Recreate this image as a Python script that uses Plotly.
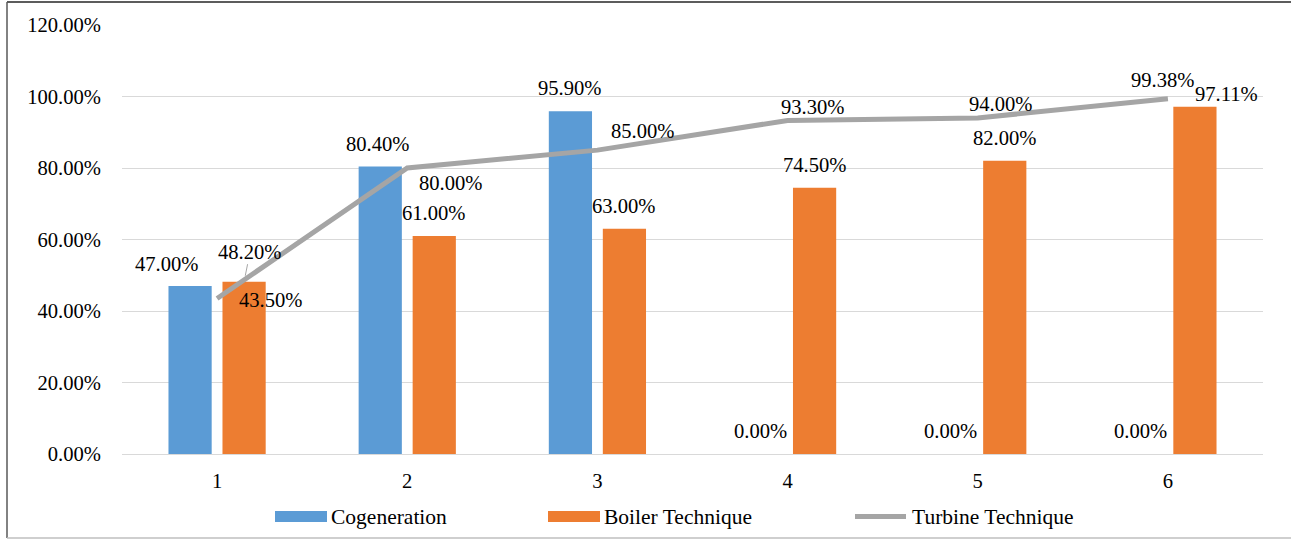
import plotly.graph_objects as go

# ---------------- data ----------------
categories = ["1", "2", "3", "4", "5", "6"]
cogeneration = [47.00, 80.40, 95.90, 0.00, 0.00, 0.00]
boiler = [48.20, 61.00, 63.00, 74.50, 82.00, 97.11]
turbine = [43.50, 80.00, 85.00, 93.30, 94.00, 99.38]
y_ticks = [0, 20, 40, 60, 80, 100, 120]
series_names = ["Cogeneration", "Boiler Technique", "Turbine Technique"]

# ---------------- styles ----------------
W, H = 1291, 539
L, R, T, B = 122, 28, 25, 85
FONT = "Liberation Serif"
FS = 20.6
FS_LEG = 21.5
C_BLUE = "#5B9BD5"
C_ORANGE = "#ED7D31"
C_GRAY = "#A5A5A5"
BAR_OFF = 27  # px offset of each bar from category centre

# label offsets (px) relative to the default position
cog_dx = [-23, -2, 0, 0, 0, 0]
cog_dy = [22, 23, 23, 23, 23, 23]
boil_dx = [6, 0, 0, 0, 0, 32]
boil_dy = [30, 23, 23, 23, 23, 13]
turb_dx = [54, 44, 46, 25, 23, -5]
turb_dy = [-2, -15, 19, 13, 14, 19]

PW = W - L - R
PH = H - T - B


def px(xpix):
    return (xpix - L) / PW


def py(ypix):
    return (H - B - ypix) / PH


fig = go.Figure()
fig.add_trace(go.Bar(x=categories, y=cogeneration, name=series_names[0],
                     marker=dict(color=C_BLUE, line=dict(width=0)), showlegend=False))
fig.add_trace(go.Bar(x=categories, y=boiler, name=series_names[1],
                     marker=dict(color=C_ORANGE, line=dict(width=0)), showlegend=False))
fig.add_trace(go.Scatter(x=categories, y=turbine, name=series_names[2], mode="lines",
                         line=dict(color=C_GRAY, width=5), showlegend=False))

ann = []
for i, c in enumerate(categories):
    ann.append(dict(x=i, y=cogeneration[i], xref="x", yref="y", text=f"{cogeneration[i]:.2f}%",
                    showarrow=False, xshift=-BAR_OFF + cog_dx[i], yshift=cog_dy[i],
                    xanchor="center", yanchor="middle"))
    if i == 0:
        ann.append(dict(x=i, y=boiler[i], xref="x", yref="y", text=f"{boiler[i]:.2f}%",
                        showarrow=True, arrowhead=0, arrowwidth=1, arrowcolor="#A6A6A6",
                        ax=boil_dx[i], ay=-boil_dy[i], xshift=BAR_OFF, standoff=6))
    else:
        ann.append(dict(x=i, y=boiler[i], xref="x", yref="y", text=f"{boiler[i]:.2f}%",
                        showarrow=False, xshift=BAR_OFF + boil_dx[i], yshift=boil_dy[i],
                        xanchor="center", yanchor="middle"))
    ann.append(dict(x=i, y=turbine[i], xref="x", yref="y", text=f"{turbine[i]:.2f}%",
                    showarrow=False, xshift=turb_dx[i], yshift=turb_dy[i],
                    xanchor="center", yanchor="middle"))

# custom legend
shapes = []
leg_y = 516.5
leg_items = [(275, 327, C_BLUE, "rect"), (548, 600, C_ORANGE, "rect"), (853, 908, C_GRAY, "line")]
for (x0, x1, col, kind), name in zip(leg_items, series_names):
    if kind == "rect":
        shapes.append(dict(type="rect", xref="paper", yref="paper", x0=px(x0), x1=px(x1),
                           y0=py(leg_y + 5.5), y1=py(leg_y - 5.5), fillcolor=col, line=dict(width=0)))
    else:
        shapes.append(dict(type="line", xref="paper", yref="paper", x0=px(x0 + 2), x1=px(x1 - 2),
                           y0=py(leg_y), y1=py(leg_y), line=dict(color=col, width=5)))
    ann.append(dict(x=px(x1 + 2), y=py(leg_y), xref="paper", yref="paper", text=name,
                    showarrow=False, xanchor="left", yanchor="middle",
                    font=dict(family=FONT, size=FS_LEG, color="#000000")))

# outer border
shapes.append(dict(type="line", xref="paper", yref="paper", x0=px(7), x1=px(W), y0=py(2), y1=py(2),
                   line=dict(color="#262626", width=1.5)))
shapes.append(dict(type="line", xref="paper", yref="paper", x0=px(7), x1=px(7), y0=py(2), y1=py(538),
                   line=dict(color="#595959", width=1.5)))
shapes.append(dict(type="line", xref="paper", yref="paper", x0=px(7), x1=px(W), y0=py(538), y1=py(538),
                   line=dict(color="#BFBFBF", width=1.5)))

fig.update_layout(
    width=W, height=H,
    margin=dict(l=L, r=R, t=T, b=B, autoexpand=False),
    paper_bgcolor="white", plot_bgcolor="white",
    font=dict(family=FONT, size=FS, color="#000000"),
    barmode="group", bargap=0.432, bargroupgap=0.2,
    annotations=ann, shapes=shapes,
    showlegend=False,
)
fig.update_xaxes(type="category", range=[-0.5, 5.5], showgrid=False, zeroline=False,
                 showline=False, ticks="", ticklabelstandoff=12,
                 tickfont=dict(family=FONT, size=FS, color="#000000"))
fig.update_yaxes(range=[0, 120], tickvals=y_ticks, ticktext=[f"{v:.2f}%" for v in y_ticks],
                 showgrid=True, gridcolor="#D9D9D9", gridwidth=1.3, zeroline=True,
                 zerolinecolor="#D9D9D9", zerolinewidth=1.3, showline=False, ticks="",
                 ticklabelstandoff=20, tickfont=dict(family=FONT, size=FS, color="#000000"))

fig.write_html("out.html")
